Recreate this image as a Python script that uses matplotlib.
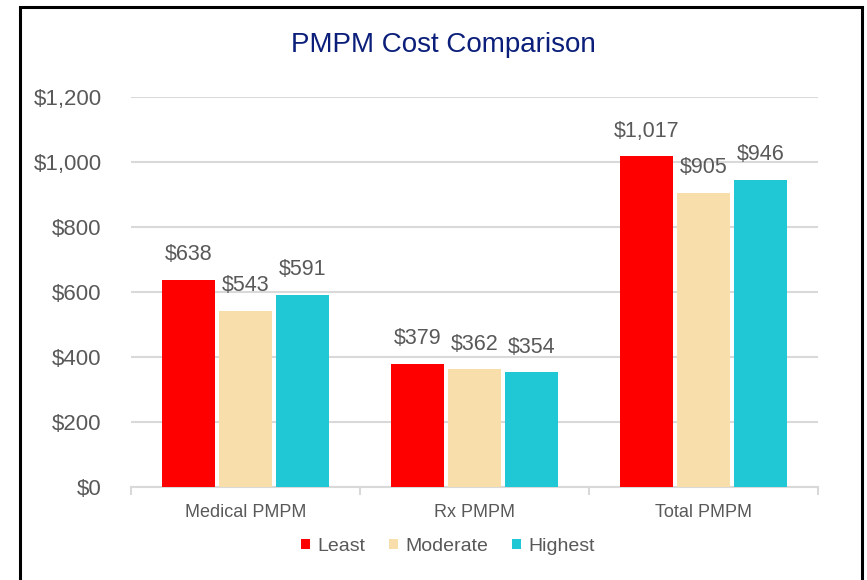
import numpy as np
import matplotlib.pyplot as plt
from matplotlib.patches import Rectangle

# Chart data
categories = ["Medical PMPM", "Rx PMPM", "Total PMPM"]
series_names = ["Least", "Moderate", "Highest"]
least = [638, 379, 1017]
moderate = [543, 362, 905]
highest = [591, 354, 946]
y_ticks = [0, 200, 400, 600, 800, 1000, 1200]

colors = ["#FF0000", "#F8DEAA", "#1FC8D4"]
text_grey = "#595959"

plt.rcParams["font.family"] = ["Liberation Sans", "DejaVu Sans"]

fig = plt.figure(figsize=(8.67, 5.80), dpi=100)
ax = fig.add_axes([0.151, 0.1603, 0.7925, 0.6725])

x = np.arange(len(categories))
width = 0.231
step = 0.249
all_series = [least, moderate, highest]

for i, (name, vals) in enumerate(zip(series_names, all_series)):
    bars = ax.bar(x + (i - 1) * step, vals, width, color=colors[i], label=name, zorder=3)
    for b, v in zip(bars, vals):
        ax.annotate(f"${v:,}", (b.get_x() + b.get_width() / 2, v),
                    xytext=(0, 14), textcoords="offset points",
                    ha="center", va="baseline", fontsize=15.5, color=text_grey)

ax.set_xlim(-0.5, len(categories) - 0.5)
ax.set_ylim(0, 1200)
ax.set_yticks(y_ticks)
ax.set_yticklabels([f"${v:,}" for v in y_ticks], fontsize=16, color=text_grey)
ax.set_xticks(x)
ax.set_xticklabels(categories, fontsize=13, color=text_grey)
ax.tick_params(axis="x", which="major", length=0, pad=12)
ax.tick_params(axis="y", length=0, pad=21)

# category divider ticks
ax.set_xticks(np.arange(len(categories) + 1) - 0.5, minor=True)
ax.tick_params(axis="x", which="minor", length=6, width=1.5, color="#d9d9d9")

ax.grid(axis="y", color="#d9d9d9", linewidth=1.5, zorder=0)
for side in ["top", "right", "left"]:
    ax.spines[side].set_visible(False)
ax.spines["bottom"].set_color("#d9d9d9")
ax.spines["bottom"].set_linewidth(1.5)

fig.text(0.511, 0.922, "PMPM Cost Comparison", ha="center", va="center",
         fontsize=20, color="#0B1F7A")

ax.legend(loc="center", bbox_to_anchor=(0.4615, -0.152), ncol=3, frameon=False,
          fontsize=14, labelcolor=text_grey, handlelength=0.46, handleheight=0.46,
          handletextpad=0.4, columnspacing=1.2)

# outer frame (left, top, right)
frame = Rectangle((20 / 867, -0.1), (862 - 20) / 867, 1.1 - 7 / 580, transform=fig.transFigure,
                  fill=False, edgecolor="black", linewidth=2.2)
fig.patches.append(frame)

fig.savefig("out.png", dpi=100)
